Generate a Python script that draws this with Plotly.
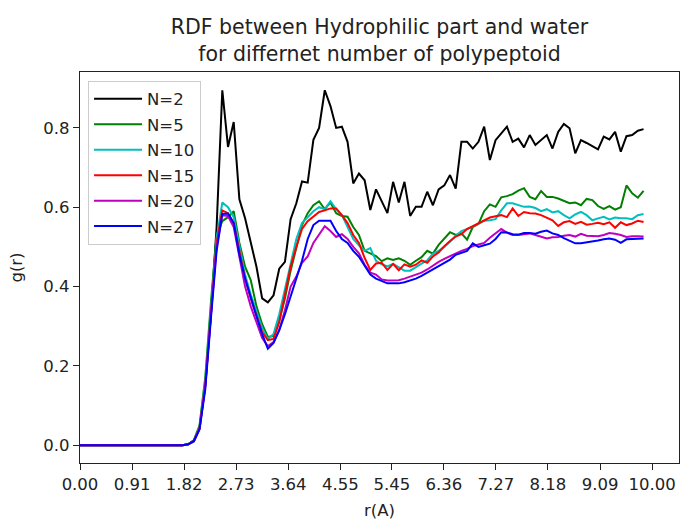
import plotly.graph_objects as go

# radial distance grid (A)
r = [round(0.0995 * i, 4) for i in range(100)]

zeros = [0.0] * 19

g_N2 = zeros + [
    0.002, 0.012, 0.045, 0.15, 0.33, 0.55, 0.895, 0.752, 0.815, 0.62,
    0.572, 0.51, 0.45, 0.37, 0.36, 0.378, 0.445, 0.462, 0.57, 0.61,
    0.665, 0.662, 0.77, 0.80, 0.895, 0.855, 0.80, 0.803, 0.765, 0.66,
    0.685, 0.668, 0.593, 0.645, 0.615, 0.585, 0.664, 0.612, 0.664, 0.578,
    0.601, 0.601, 0.639, 0.605, 0.645, 0.655, 0.681, 0.647, 0.765, 0.765,
    0.748, 0.765, 0.803, 0.719, 0.769, 0.786, 0.803, 0.765, 0.773, 0.751,
    0.782, 0.757, 0.769, 0.782, 0.748, 0.79, 0.81, 0.799, 0.736, 0.769,
    0.762, 0.754, 0.746, 0.778, 0.771, 0.79, 0.74, 0.779, 0.782, 0.793,
    0.797]

g_N5 = zeros + [
    0.002, 0.012, 0.05, 0.17, 0.36, 0.53, 0.565, 0.575, 0.59, 0.51,
    0.45, 0.416, 0.35, 0.305, 0.273, 0.275, 0.315, 0.37, 0.44, 0.50,
    0.555, 0.585, 0.605, 0.615, 0.595, 0.612, 0.585, 0.578, 0.576, 0.55,
    0.53, 0.49, 0.483, 0.477, 0.464, 0.471, 0.467, 0.471, 0.465, 0.455,
    0.465, 0.474, 0.49, 0.483, 0.505, 0.52, 0.537, 0.53, 0.534, 0.518,
    0.55, 0.558, 0.59, 0.607, 0.601, 0.625, 0.628, 0.633, 0.642, 0.648,
    0.626, 0.62, 0.641, 0.626, 0.626, 0.622, 0.616, 0.61, 0.612, 0.605,
    0.621, 0.618, 0.603, 0.596, 0.603, 0.594, 0.60, 0.655, 0.635, 0.624,
    0.641]

g_N10 = zeros + [
    0.002, 0.01, 0.045, 0.16, 0.34, 0.52, 0.612, 0.60, 0.575, 0.50,
    0.43, 0.38, 0.335, 0.295, 0.268, 0.28, 0.33, 0.395, 0.46, 0.52,
    0.56, 0.575, 0.59, 0.60, 0.595, 0.615, 0.595, 0.58, 0.55, 0.52,
    0.504, 0.49, 0.497, 0.465, 0.456, 0.451, 0.457, 0.448, 0.44, 0.44,
    0.45, 0.458, 0.466, 0.483, 0.49, 0.50, 0.513, 0.528, 0.54, 0.545,
    0.551, 0.558, 0.566, 0.567, 0.57, 0.592, 0.61, 0.61, 0.605, 0.601,
    0.602, 0.598, 0.59, 0.595, 0.587, 0.59, 0.58, 0.572, 0.582, 0.588,
    0.58, 0.567, 0.572, 0.576, 0.569, 0.574, 0.572, 0.572, 0.57, 0.58,
    0.583]

g_N15 = zeros + [
    0.002, 0.01, 0.042, 0.15, 0.33, 0.51, 0.592, 0.585, 0.56, 0.49,
    0.42, 0.37, 0.325, 0.285, 0.265, 0.268, 0.31, 0.38, 0.45, 0.50,
    0.545, 0.565, 0.577, 0.588, 0.592, 0.597, 0.597, 0.58, 0.56, 0.53,
    0.51, 0.472, 0.442, 0.458, 0.46, 0.442, 0.457, 0.441, 0.456, 0.45,
    0.455, 0.466, 0.46, 0.476, 0.486, 0.502, 0.515, 0.526, 0.532, 0.545,
    0.552, 0.56, 0.567, 0.574, 0.577, 0.58, 0.575, 0.597, 0.578, 0.588,
    0.585, 0.584, 0.58, 0.574, 0.567, 0.553, 0.562, 0.565, 0.558, 0.563,
    0.556, 0.558, 0.561, 0.557, 0.562, 0.548, 0.562, 0.555, 0.559, 0.566,
    0.563]

g_N20 = zeros + [
    0.002, 0.01, 0.04, 0.15, 0.33, 0.50, 0.58, 0.578, 0.55, 0.47,
    0.40, 0.35, 0.31, 0.27, 0.25, 0.26, 0.29, 0.34, 0.40, 0.425,
    0.46, 0.476, 0.51, 0.53, 0.552, 0.54, 0.525, 0.532, 0.52, 0.50,
    0.484, 0.455, 0.435, 0.43, 0.418, 0.415, 0.415, 0.416, 0.42, 0.425,
    0.43, 0.435, 0.443, 0.453, 0.462, 0.47, 0.477, 0.483, 0.49, 0.495,
    0.502, 0.506, 0.51, 0.523, 0.533, 0.545, 0.536, 0.53, 0.53, 0.532,
    0.534, 0.53, 0.525, 0.521, 0.524, 0.525, 0.528, 0.53, 0.526, 0.533,
    0.528, 0.527, 0.527, 0.53, 0.535, 0.533, 0.53, 0.525, 0.527, 0.527,
    0.526]

g_N27 = zeros + [
    0.002, 0.01, 0.04, 0.14, 0.32, 0.49, 0.583, 0.584, 0.56, 0.48,
    0.42, 0.37, 0.325, 0.28, 0.243, 0.258, 0.29, 0.33, 0.375, 0.42,
    0.465, 0.52, 0.555, 0.566, 0.566, 0.566, 0.54, 0.52, 0.51, 0.49,
    0.475, 0.452, 0.43, 0.42, 0.414, 0.408, 0.408, 0.408, 0.411, 0.415,
    0.42, 0.427, 0.435, 0.443, 0.45, 0.46, 0.468, 0.48, 0.486, 0.49,
    0.509, 0.50, 0.504, 0.508, 0.52, 0.537, 0.536, 0.532, 0.531, 0.535,
    0.535, 0.533, 0.538, 0.541, 0.534, 0.53, 0.522, 0.515, 0.509, 0.509,
    0.511, 0.513, 0.516, 0.519, 0.521, 0.518, 0.51, 0.519, 0.52, 0.521,
    0.521]

series_names = ["N=2", "N=5", "N=10", "N=15", "N=20", "N=27"]
series_values = [g_N2, g_N5, g_N10, g_N15, g_N20, g_N27]
series_colors = ["#000000", "#008000", "#00bfbf", "#ff0000", "#bf00bf", "#0000ff"]

x_tick_labels = ["0.00", "0.91", "1.82", "2.73", "3.64", "4.55",
                 "5.45", "6.36", "7.27", "8.18", "9.09", "10.00"]
y_tick_values = [0.0, 0.2, 0.4, 0.6, 0.8]

FONT = "DejaVu Sans"

fig = go.Figure()
for i, (name, vals, col) in enumerate(zip(series_names, series_values, series_colors)):
    fig.add_trace(go.Scatter(
        x=r[:len(vals)], y=vals, mode="lines", name=name,
        line=dict(color=col, width=2), legendgroup=f"g{i}",
    ))

axis_common = dict(
    showline=True, linecolor="#222222", linewidth=1.2, mirror=True,
    showgrid=False, zeroline=False, ticks="outside", ticklen=6, tickwidth=1.2,
    tickcolor="#222222", tickfont=dict(family=FONT, size=16.5, color="#222222"),
)

fig.update_layout(
    width=680, height=521,
    margin=dict(l=80, r=1, t=72, b=58),
    paper_bgcolor="white", plot_bgcolor="white",
    title=dict(
        text="RDF between Hydrophilic part and water<br>for differnet number of polypeptoid",
        x=0.5, xref="paper", xanchor="center",
        y=0.935, yref="container", yanchor="top",
        font=dict(family=FONT, size=20.5, color="#222222"),
    ),
    xaxis=dict(
        range=[0, 10.47],
        tickmode="array",
        tickvals=[float(s) for s in x_tick_labels],
        ticktext=x_tick_labels,
        title=dict(text="r(A)", font=dict(family=FONT, size=16.5, color="#222222"), standoff=11),
        **axis_common,
    ),
    yaxis=dict(
        range=[-0.045, 0.941],
        tickmode="array",
        tickvals=y_tick_values,
        ticktext=[f"{v:.1f}" for v in y_tick_values],
        title=dict(text="g(r)", font=dict(family=FONT, size=16.5, color="#222222"), standoff=16),
        **axis_common,
    ),
    legend=dict(
        x=0.0134, y=0.978, xanchor="left", yanchor="top",
        bgcolor="rgba(255,255,255,0.8)", bordercolor="#cccccc", borderwidth=1,
        font=dict(family=FONT, size=16.5, color="#222222"),
        tracegroupgap=1, itemwidth=48,
    ),
    showlegend=True,
)

fig.write_html("out.html")
